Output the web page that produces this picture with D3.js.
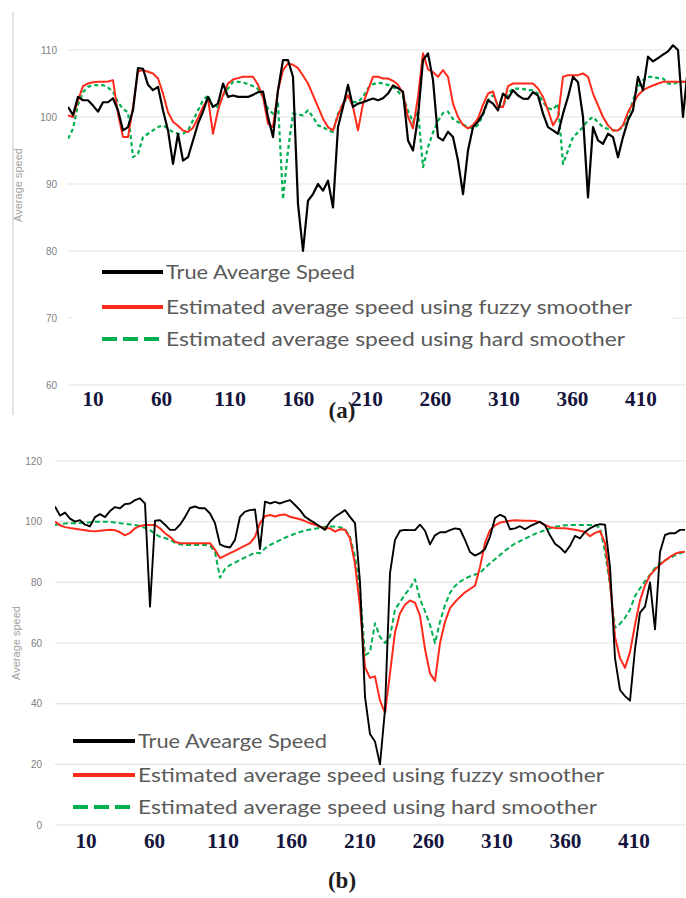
<!DOCTYPE html>
<html>
<head>
<meta charset="utf-8">
<script src="https://cdn.jsdelivr.net/npm/d3@7"></script>
<style>
  body { margin: 0; background: #fff; }
  svg { display: block; }
</style>
</head>
<body>
<div id="chart"></div>
<script>
// ---- data (samples are evenly spaced along the time axis) ----

// panel (a)
var trueSpeedA = [101.5, 100.3, 103, 102.5, 102.5, 101.7, 100.8, 102.2, 102.2, 102.8,
  101, 98, 98.5, 101, 107.3, 107.2, 104.8, 104, 104.5, 101,
  98, 93, 97.5, 93.5, 94, 96.5, 99, 100.8, 103, 101.5,
  102, 105, 103, 103.2, 103, 103, 103, 103.3, 103.7, 103.8,
  100, 97, 104, 108.5, 108.5, 106, 87, 80, 87.5, 88.5,
  90, 89, 90.5, 86.5, 98.5, 101.5, 104.8, 101.5, 102, 102.2,
  102.5, 102.75, 102.5, 102.8, 103.5, 104.7, 104.3, 103.8, 96.5, 95,
  100, 108.5, 109.5, 105.5, 97, 96.5, 97.8, 97, 93.5, 88.5,
  95, 98.5, 99.3, 100.5, 102.5, 102, 101, 103.5, 102.75, 104,
  103.2, 102.75, 102.7, 103.7, 103.2, 100.5, 98.5, 98, 97.5, 100.5,
  103, 106, 105.2, 100, 88, 98.5, 96.5, 96, 97.5, 97,
  94, 97, 99.5, 101, 106, 104, 109, 108.3, 108.8, 109.3,
  109.8, 110.7, 110, 100, 107.5];
var fuzzySpeedA = [100.25, 100, 102.5, 104.6, 105, 105.2, 105.25, 105.25, 105.3, 105.5,
  100.5, 97, 97, 101.5, 106.8, 107, 106.75, 106.5, 105.75, 103.5,
  100.7, 99.3, 98.7, 98, 97.75, 98.4, 99.8, 101.5, 102.75, 97.5,
  101, 103.25, 105, 105.6, 105.8, 106, 106, 106, 104.8, 103,
  99, 98.5, 104, 107, 108, 107.8, 107.3, 106.2, 105, 103.25,
  101.5, 99.75, 98.5, 98, 100.25, 102, 103.25, 101.5, 98, 102,
  104, 106, 106, 105.75, 105.75, 105.4, 104.8, 103.5, 100, 98.3,
  103, 109.5, 107.1, 106.7, 106, 107, 106, 102, 100, 98.8,
  98.3, 98.8, 99.8, 101.8, 103.5, 103.8, 101.5, 101.5, 104.6, 105,
  105, 105, 105, 105, 104.25, 103, 101, 98.75, 100, 106,
  106.25, 106.25, 106.25, 106.5, 106, 103.5, 101.75, 100, 98.75, 98,
  98, 98.75, 100.75, 102, 103.25, 104, 104.4, 104.7, 105, 105.25,
  105.25, 105.25, 105.25, 105.25, 105.25];
var hardSpeedA = [96.75, 98.25, 101.8, 103.7, 104.5, 104.75, 104.75, 104.75, 104.4, 103.8,
  102.2, 101.2, 100.7, 94, 94.5, 97, 97.5, 98, 98.5, 98.75,
  98.25, 97.75, 97.5, 97.5, 98, 99.5, 101, 102.5, 103.25, 101.5,
  101.5, 103.25, 104.25, 105.25, 105.25, 105.2, 104.9, 104.6, 104.2, 103,
  101.2, 100.5, 102, 87.7, 95, 100.5, 100.4, 100.25, 101, 100,
  98.75, 98.5, 98, 97.75, 100.5, 102, 103, 102.25, 102.2, 103,
  104.3, 104.9, 105.1, 105, 104.8, 104.5, 103.8, 103, 101, 99.2,
  101, 92.5, 95.5, 97.7, 99.4, 100.6, 100.8, 99.7, 99.25, 98.9,
  98.5, 98.3, 98.8, 100.3, 102.5, 103.25, 101.75, 101.5, 103.5, 104.25,
  104.25, 104.2, 104, 104, 103.5, 102.2, 101.3, 101.1, 102, 93,
  95, 97, 97.7, 98.5, 99.5, 100, 99.2, 98.5, 98.2, 98,
  98, 98.5, 100.25, 102.5, 104.5, 105.5, 106, 106, 105.8, 105.75,
  105, 104.9, 105.2, 105.25, 105.25];

// panel (b)
var trueSpeedB = [105, 102, 103, 101, 100, 100.5, 99, 98.5, 101.5, 102.5,
  101.5, 103.5, 104.8, 104.4, 105.8, 106, 107.1, 107.7, 106, 72,
  100.3, 100.5, 99, 97.3, 97.3, 99, 101.5, 104.5, 105, 104.4,
  104.4, 102.7, 99.5, 92.5, 91.8, 91.5, 94, 101.6, 103.3, 103.8,
  104, 91, 106.6, 106, 106.5, 106, 106.6, 107.1, 105.5, 103.8,
  101.6, 100.5, 99.5, 98.4, 97.3, 100, 101.6, 102.7, 103.8, 101.6,
  99.5, 80, 42.3, 30, 27.5, 20, 38, 83, 94, 97,
  97.3, 97.2, 97.2, 99, 97, 92.5, 95.5, 96.5, 96.5, 97.2,
  97.8, 97.5, 94, 90, 88.8, 89.6, 91, 95, 101.2, 102.3,
  101.5, 97.5, 97.8, 98.5, 97.5, 98.5, 99.3, 100, 98.8, 95.5,
  92.7, 91.5, 89.8, 92, 95.3, 94.5, 96.6, 97.8, 98.7, 99.2,
  99, 85, 55, 44.5, 42.5, 41, 58, 70, 72, 80,
  64.5, 90, 95.6, 96.2, 96.2, 97.3, 97.3];
var fuzzySpeedB = [100, 98.8, 98.2, 97.9, 97.7, 97.4, 97.2, 96.9, 96.8, 97,
  97.2, 97.3, 97.2, 96.5, 95.5, 96.3, 97.8, 98.6, 98.9, 98.9,
  98.9, 97.8, 96.2, 95, 93.4, 92.9, 92.9, 92.9, 92.9, 92.9,
  92.9, 92.9, 90.7, 88, 88.8, 89.6, 90.4, 91.3, 92.1, 92.9,
  95, 99.5, 101.8, 102.2, 101.7, 102.2, 102.4, 101.6, 101.2, 100.8,
  100.2, 99.5, 99, 98.3, 97.8, 97.8, 96.7, 97.5, 97.3, 94.5,
  86, 72, 52, 48.5, 49, 41, 37, 50, 63.5, 69.8,
  72.6, 74, 73.3, 69, 58, 50, 47.5, 60, 67, 71.5,
  73.5, 75.2, 76.7, 77.8, 78.9, 85, 93, 97.2, 98.8, 99.7,
  100, 100.3, 100.5, 100.4, 100.3, 100.3, 100.2, 99.8, 98.9, 98.2,
  97.9, 97.8, 97.8, 97.6, 97.3, 97, 96.6, 95.2, 96.3, 96.9,
  93, 80, 62, 55, 51.8, 57, 66, 74, 79, 82.3,
  84.2, 85.8, 87.2, 88.4, 89.4, 89.9, 90.1];
var hardSpeedB = [98.9, 99.2, 99.4, 99.5, 99.5, 99.6, 99.7, 99.8, 100, 100,
  100, 99.9, 99.7, 99.5, 99.3, 99.1, 98.9, 98.5, 98, 97.2,
  96, 95, 94.6, 94, 93, 92.5, 92.3, 92.3, 92.3, 92.3,
  92.3, 92.1, 90, 81.5, 84.4, 85.7, 86.5, 87.4, 88.2, 89,
  89.8, 89.6, 91.2, 92.3, 93.1, 93.9, 94.7, 95.4, 96, 96.6,
  97.1, 97.4, 97.7, 98, 98.3, 98.4, 98.4, 98.2, 97.6, 95,
  88.5, 77.5, 56, 57, 66.5, 62, 60, 62, 71, 73.5,
  76, 78, 81, 74.5, 70.5, 66, 59.9, 67, 72.5, 76.5,
  78.8, 80.2, 81.2, 82, 82.6, 83, 84.8, 86.3, 87.6, 89,
  90.4, 91.7, 92.8, 93.6, 94.4, 95.2, 96, 96.6, 97.2, 97.8,
  98.3, 98.6, 98.8, 98.9, 98.9, 98.9, 98.9, 98.9, 98.9, 98,
  90, 79, 65, 66.3, 68.3, 71, 75.5, 78, 80.4, 82.5,
  84.8, 86.2, 87.2, 88.1, 88.9, 89.6, 90.1];

var yTicksA = [60, 70, 80, 90, 100, 110];
var yTicksB = [0, 20, 40, 60, 80, 100, 120];
var xTickLabels = [10, 60, 110, 160, 210, 260, 310, 360, 410];
var seriesNames = ["True Avearge Speed",
  "Estimated average speed using fuzzy smoother",
  "Estimated average speed using hard smoother"];
var yTitle = "Average speed";

// ---- drawing ----
var W = 686, H = 898;
var colors = ["#000000", "#ff2a1a", "#00b050"];
var legendWidths = [189, 466, 459];

var svg = d3.select("#chart").append("svg")
    .attr("width", W)
    .attr("height", H);

svg.append("rect").attr("width", W).attr("height", H).attr("fill", "#fff");

function drawPanel(p) {
  var g = svg.append("g");

  var x = d3.scaleLinear()
      .domain([0, p.series[0].length - 1])
      .range(p.xRange);
  var y = d3.scaleLinear()
      .domain(p.yDomain)
      .range(p.yRange);
  // the hand placed tick labels under the plot
  var xl = d3.scaleLinear()
      .domain([xTickLabels[0], xTickLabels[xTickLabels.length - 1]])
      .range(p.xLabelRange);

  // gridlines
  g.selectAll(".grid")
      .data(p.yTicks)
    .enter().append("line")
      .attr("x1", p.gridX[0]).attr("x2", p.gridX[1])
      .attr("y1", function(d) { return y(d); })
      .attr("y2", function(d) { return y(d); })
      .attr("stroke", "#e4e4e4")
      .attr("stroke-width", 1.2);

  // y tick labels
  g.selectAll(".ylab")
      .data(p.yTicks)
    .enter().append("text")
      .attr("x", p.yLabelX)
      .attr("y", function(d) { return y(d) + 3.5; })
      .attr("text-anchor", "end")
      .attr("font-family", "Liberation Sans, Arial, sans-serif")
      .attr("font-size", 10)
      .attr("fill", "#808080")
      .text(function(d) { return d; });

  g.append("text")
      .attr("transform", "translate(" + p.yTitle[0] + "," + p.yTitle[1] + ") rotate(-90)")
      .attr("text-anchor", "middle")
      .attr("font-family", "Liberation Sans, Arial, sans-serif")
      .attr("font-size", 11)
      .attr("fill", "#a0a0a0")
      .text(yTitle);

  if (p.legendBox) {
    g.append("rect")
        .attr("x", p.legendBox[0]).attr("y", p.legendBox[1])
        .attr("width", p.legendBox[2]).attr("height", p.legendBox[3])
        .attr("fill", "#fff");
  }

  // data lines
  var clipId = "clip" + p.name;
  svg.append("clipPath").attr("id", clipId)
    .append("rect")
      .attr("x", p.gridX[0]).attr("y", 0)
      .attr("width", p.gridX[1] - p.gridX[0]).attr("height", H);

  var line = d3.line()
      .x(function(d, i) { return x(i); })
      .y(function(d) { return y(d); });

  // draw green first, then red, then black on top
  [2, 1, 0].forEach(function(s) {
    g.append("path")
        .datum(p.series[s])
        .attr("clip-path", "url(#" + clipId + ")")
        .attr("d", line)
        .attr("fill", "none")
        .attr("stroke", colors[s])
        .attr("stroke-width", p.widths[s])
        .attr("stroke-linejoin", "round")
        .attr("stroke-dasharray", s == 2 ? p.dash : null);
  });

  // legend
  seriesNames.forEach(function(name, i) {
    g.append("line")
        .attr("x1", p.legendLineX[0]).attr("x2", p.legendLineX[1])
        .attr("y1", p.legendRows[i]).attr("y2", p.legendRows[i])
        .attr("stroke", colors[i])
        .attr("stroke-width", 4)
        .attr("stroke-dasharray", i == 2 ? "15,6" : null);
    g.append("text")
        .attr("x", p.legendTextX)
        .attr("y", p.legendRows[i] + 7)
        .attr("font-family", "Lato, 'Open Sans', sans-serif")
        .attr("font-size", 19)
        .attr("fill", "#5a5a5a")
        .attr("textLength", legendWidths[i])
        .attr("lengthAdjust", "spacingAndGlyphs")
        .text(name);
  });

  // x labels
  g.selectAll(".xlab")
      .data(xTickLabels)
    .enter().append("text")
      .attr("x", function(d) { return xl(d); })
      .attr("y", p.xLabelY)
      .attr("text-anchor", "middle")
      .attr("font-family", "Liberation Serif, 'Times New Roman', serif")
      .attr("font-weight", "bold")
      .attr("font-size", 21)
      .attr("fill", "#14143c")
      .attr("textLength", function(d) { return String(d).length * 10.6; })
      .attr("lengthAdjust", "spacingAndGlyphs")
      .text(function(d) { return d; });

  g.append("text")
      .attr("x", 342)
      .attr("y", p.titleY)
      .attr("text-anchor", "middle")
      .attr("font-family", "Liberation Serif, 'Times New Roman', serif")
      .attr("font-weight", "bold")
      .attr("font-size", 23)
      .attr("fill", "#1e1e1e")
      .text(p.title);
}

// frame line on the left of panel (a)
svg.append("line")
    .attr("x1", 13).attr("x2", 13).attr("y1", 12).attr("y2", 415)
    .attr("stroke", "#d8d8d8").attr("stroke-width", 1.5);

drawPanel({
  name: "a",
  series: [trueSpeedA, fuzzySpeedA, hardSpeedA],
  widths: [2.2, 2, 2.2],
  dash: "4,3",
  xRange: [68, 688],
  yDomain: [60, 110],
  yRange: [385, 50],
  yTicks: yTicksA,
  gridX: [68, 686],
  yLabelX: 57,
  yTitle: [22, 185],
  legendBox: [72, 258, 600, 98],
  legendLineX: [102, 163],
  legendTextX: 166,
  legendRows: [272, 307, 339],
  xLabelRange: [93, 641],
  xLabelY: 406,
  title: "(a)",
  titleY: 418
});

drawPanel({
  name: "b",
  series: [trueSpeedB, fuzzySpeedB, hardSpeedB],
  widths: [1.9, 2, 2],
  dash: "5,3",
  xRange: [55, 685],
  yDomain: [0, 120],
  yRange: [825, 461],
  yTicks: yTicksB,
  gridX: [55, 686],
  yLabelX: 42,
  yTitle: [20, 643],
  legendBox: null,
  legendLineX: [73, 135],
  legendTextX: 138,
  legendRows: [741, 775, 807],
  xLabelRange: [86, 634],
  xLabelY: 848,
  title: "(b)",
  titleY: 888
});
</script>
</body>
</html>
